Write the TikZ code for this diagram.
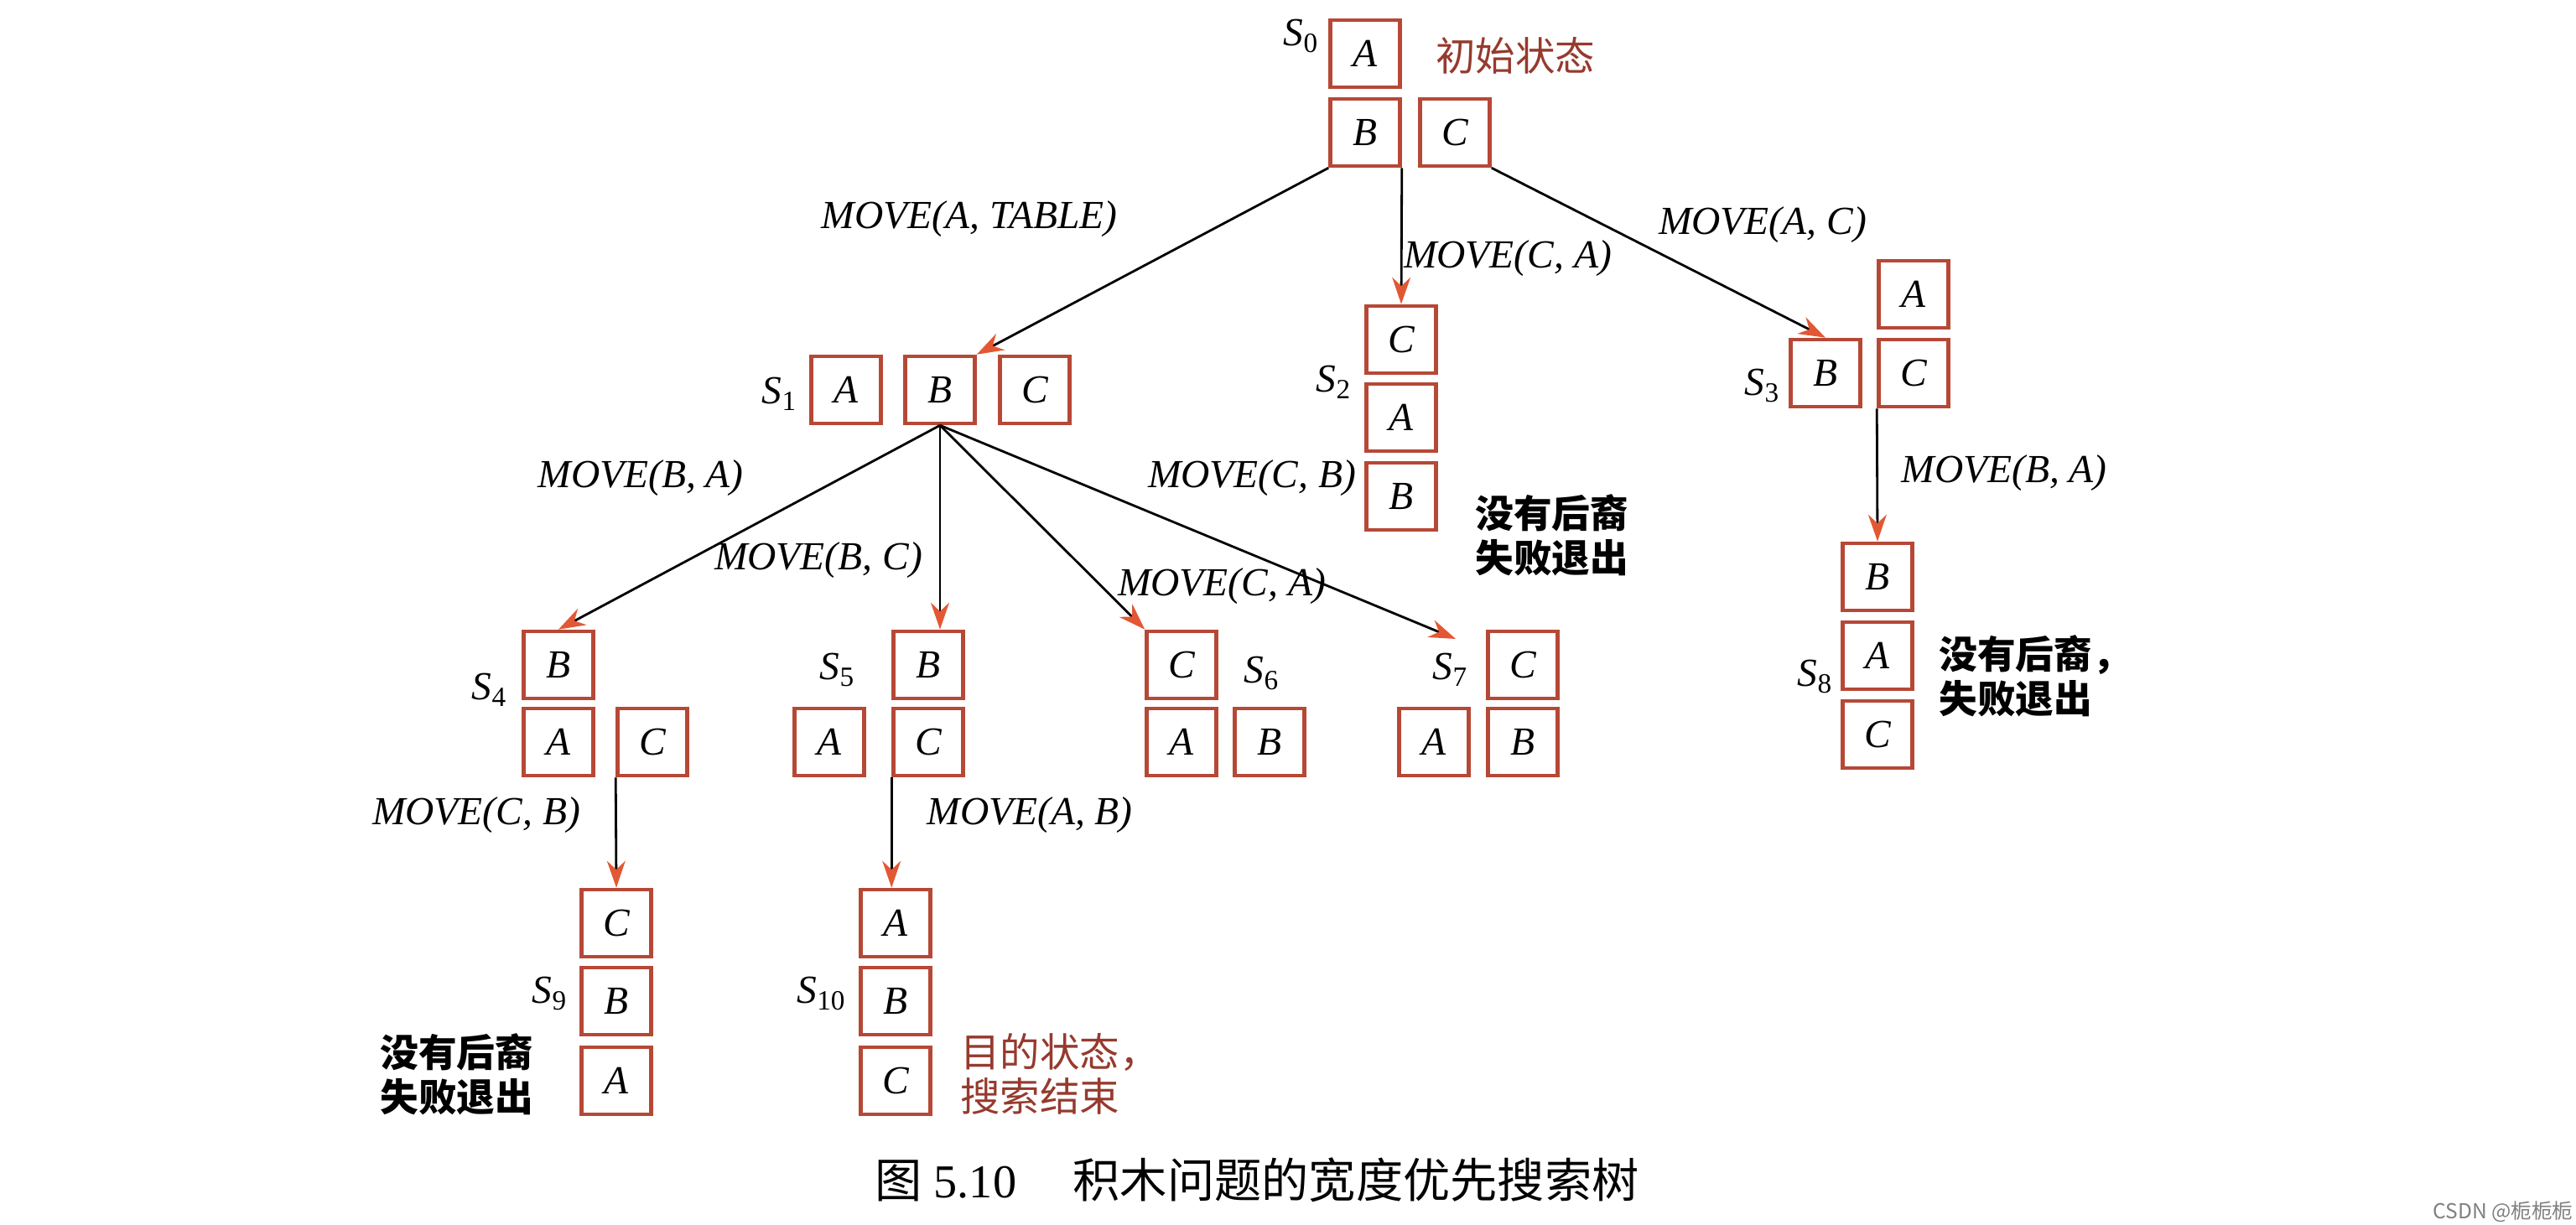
\documentclass[tikz,border=0pt]{standalone}
\usepackage{fontspec}
\setmainfont{Liberation Serif}
\newfontfamily\cjk{Noto Sans CJK SC}
\usetikzlibrary{arrows.meta}
\definecolor{boxred}{RGB}{182,72,54}
\definecolor{tipred}{RGB}{226,88,52}
\definecolor{notered}{RGB}{150,58,46}

\begin{document}
\begin{tikzpicture}
		\tikzset{blk/.style={draw=boxred, line width=1.3pt, minimum width=0.83cm, minimum height=0.80cm, inner sep=0pt, font=\fontsize{13.5}{16}\selectfont\itshape}};
		\tikzset{mv/.style={line width=0.8pt, -{Stealth[length=3.2mm, width=2.2mm, color=tipred]}}};
		\tikzset{op/.style={font=\fontsize{13.5}{16}\selectfont\itshape}};
		\tikzset{st/.style={font=\fontsize{13.5}{16}\selectfont}};
		\tikzset{note/.style={anchor=west, align=left, font=\fontsize{13}{15}\selectfont\cjk\bfseries}};

		\useasboundingbox (0,0) rectangle (30.72,14.6);

		% S0
		\node[blk] (s0a) at (16.28, 13.96) {A};
		\node[blk] (s0b) at (16.28, 13.02) {B};
		\node[blk] (s0c) at (17.35, 13.02) {C};
		\node[st] (l0) at (15.52, 14.17) {\textit{S}\textsubscript{0}};
		\node[note, font=\fontsize{13.5}{15}\selectfont\cjk, text=notered] (n0) at (17.00, 13.94) {初始状态};

		% S1
		\node[blk] (s1a) at (10.09, 9.95) {A};
		\node[blk] (s1b) at (11.21, 9.95) {B};
		\node[blk] (s1c) at (12.34, 9.95) {C};
		\node[st] (l1) at (9.30, 9.90) {\textit{S}\textsubscript{1}};

		% S2
		\node[blk] (s2c) at (16.71, 10.55) {C};
		\node[blk] (s2a) at (16.71, 9.62) {A};
		\node[blk] (s2b) at (16.71, 8.68) {B};
		\node[st] (l2) at (15.91, 10.04) {\textit{S}\textsubscript{2}};
		\node[note] (n2) at (17.47, 8.22) {没有后裔\\失败退出};

		% S3
		\node[blk] (s3b) at (21.77, 10.15) {B};
		\node[blk] (s3a) at (22.82, 11.09) {A};
		\node[blk] (s3c) at (22.82, 10.15) {C};
		\node[st] (l3) at (21.02, 10.00) {\textit{S}\textsubscript{3}};

		% S4
		\node[blk] (s4b) at (6.66, 6.67) {B};
		\node[blk] (s4a) at (6.66, 5.75) {A};
		\node[blk] (s4c) at (7.78, 5.75) {C};
		\node[st] (l4) at (5.84, 6.37) {\textit{S}\textsubscript{4}};

		% S5
		\node[blk] (s5b) at (11.07, 6.67) {B};
		\node[blk] (s5a) at (9.89, 5.75) {A};
		\node[blk] (s5c) at (11.07, 5.75) {C};
		\node[st] (l5) at (9.99, 6.61) {\textit{S}\textsubscript{5}};

		% S6
		\node[blk] (s6c) at (14.09, 6.67) {C};
		\node[blk] (s6a) at (14.09, 5.75) {A};
		\node[blk] (s6b) at (15.14, 5.75) {B};
		\node[st] (l6) at (15.05, 6.57) {\textit{S}\textsubscript{6}};

		% S7
		\node[blk] (s7c) at (18.16, 6.67) {C};
		\node[blk] (s7a) at (17.10, 5.75) {A};
		\node[blk] (s7b) at (18.16, 5.75) {B};
		\node[st] (l7) at (17.30, 6.61) {\textit{S}\textsubscript{7}};
		\coordinate (s7in) at (17.36, 6.98);

		% S8
		\node[blk] (s8b) at (22.39, 7.72) {B};
		\node[blk] (s8a) at (22.39, 6.78) {A};
		\node[blk] (s8c) at (22.39, 5.84) {C};
		\node[st] (l8) at (21.65, 6.53) {\textit{S}\textsubscript{8}};
		\node[note] (n8) at (23.00, 6.54) {没有后裔，\\失败退出};

		% S9
		\node[blk] (s9c) at (7.35, 3.59) {C};
		\node[blk] (s9b) at (7.35, 2.66) {B};
		\node[blk] (s9a) at (7.35, 1.71) {A};
		\node[st] (l9) at (6.56, 2.75) {\textit{S}\textsubscript{9}};
		\node[note] (n9) at (4.41, 1.79) {没有后裔\\失败退出};

		% S10
		\node[blk] (s10a) at (10.68, 3.59) {A};
		\node[blk] (s10b) at (10.68, 2.66) {B};
		\node[blk] (s10c) at (10.68, 1.71) {C};
		\node[st] (l10) at (9.80, 2.75) {\textit{S}\textsubscript{10}};
		\node[note, font=\fontsize{13.5}{15}\selectfont\cjk, text=notered] (n10) at (11.33, 1.79) {目的状态，\\搜索结束};

		% moves
		\node[op] (m1) at (11.56, 11.99) {MOVE(A, TABLE)};
		\node[op] (m2) at (17.98, 11.52) {MOVE(C, A)};
		\node[op] (m3) at (21.02, 11.92) {MOVE(A, C)};
		\node[op] (m4) at (7.64, 8.90) {MOVE(B, A)};
		\node[op] (m5) at (9.76, 7.92) {MOVE(B, C)};
		\node[op] (m6) at (14.57, 7.61) {MOVE(C, A)};
		\node[op] (m7) at (14.93, 8.90) {MOVE(C, B)};
		\node[op] (m8) at (23.90, 8.96) {MOVE(B, A)};
		\node[op] (m9) at (5.68, 4.88) {MOVE(C, B)};
		\node[op] (m10) at (12.28, 4.88) {MOVE(A, B)};

		\draw[mv] (s0b.south west) to (s1b.north east);
		\draw[mv] (s0b.south east) to (s2c.north);
		\draw[mv] (s0c.south east) to (s3b.north);

		\draw[mv] (s1b.south) to (s4b.north);
		\draw[mv] (s1b.south) to (s1b.south |- s5b.north);
		\draw[mv] (s1b.south) to (s6c.north west);
		\draw[mv] (s1b.south) to (s7in);

		\draw[mv] (s3c.south west) to (s8b.north);
		\draw[mv] (s4c.south west) to (s9c.north);
		\draw[mv] (s5c.south west) to (s5c.south west |- s10a.north);

		\node[font=\fontsize{16}{18}\selectfont] (cap) at (14.99, 0.53) {{\cjk 图} 5.10\hspace{1.2em}{\cjk 积木问题的宽度优先搜索树}};
		\node[font=\fontsize{7}{8}\selectfont\cjk, text=gray] (wm) at (29.85, 0.15) {CSDN @栀栀栀};
	\end{tikzpicture}
\end{document}
